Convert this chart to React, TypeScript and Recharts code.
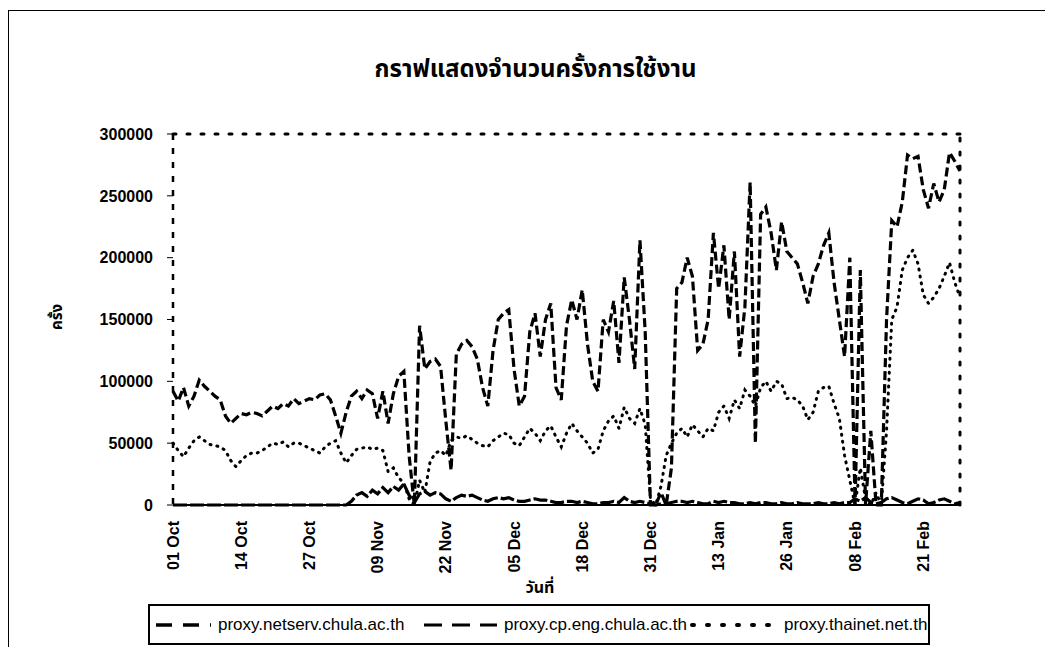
import { LineChart, Line, XAxis, YAxis, ReferenceLine } from "recharts"

// x tick positions (day index counted from 01 Oct) and their labels
const tickDays = [0, 13, 26, 39, 52, 65, 78, 91, 104, 117, 130, 143]
const tickLabels = [
  "01 Oct", "14 Oct", "27 Oct", "09 Nov", "22 Nov", "05 Dec",
  "18 Dec", "31 Dec", "13 Jan", "26 Jan", "08 Feb", "21 Feb",
]
const yTicks = [0, 50000, 100000, 150000, 200000, 250000, 300000]

// one value per day, 01 Oct .. 28 Feb
const netserv = [
  92000, 84000, 95000, 80000, 88000, 101000, 96000, 92000, 88000, 85000,
  72000, 66000, 70000, 74000, 73000, 75000, 74000, 72000, 76000, 80000,
  78000, 82000, 80000, 86000, 82000, 84000, 86000, 85000, 89000, 90000,
  85000, 72000, 58000, 75000, 88000, 92000, 86000, 93000, 90000, 70000,
  92000, 66000, 90000, 104000, 108000, 40000, 0, 145000, 110000, 116000,
  118000, 112000, 68000, 28000, 122000, 130000, 133000, 128000, 118000, 95000,
  80000, 125000, 150000, 155000, 158000, 110000, 80000, 88000, 140000, 155000,
  120000, 150000, 163000, 95000, 85000, 145000, 166000, 150000, 174000, 130000,
  100000, 92000, 150000, 140000, 165000, 115000, 184000, 150000, 110000, 214000,
  140000, 0, 0, 10000, 0, 30000, 175000, 180000, 200000, 185000,
  125000, 130000, 150000, 220000, 175000, 210000, 150000, 205000, 120000, 160000,
  261000, 50000, 235000, 241000, 220000, 190000, 229000, 205000, 200000, 195000,
  180000, 163000, 185000, 195000, 210000, 220000, 180000, 150000, 120000, 200000,
  0, 190000, 0, 60000, 0, 0, 150000, 230000, 225000, 245000,
  283000, 280000, 282000, 255000, 240000, 260000, 245000, 255000, 285000, 278000,
  270000,
]

const cpEng = [
  0, 0, 0, 0, 0, 0, 0, 0, 0, 0,
  0, 0, 0, 0, 0, 0, 0, 0, 0, 0,
  0, 0, 0, 0, 0, 0, 0, 0, 0, 0,
  0, 0, 0, 0, 3000, 8000, 10000, 7000, 12000, 9000,
  14000, 10000, 15000, 12000, 17000, 8000, 2000, 9000, 11000, 8000,
  10000, 9000, 5000, 3000, 6000, 8000, 7000, 8000, 6000, 4000,
  3000, 5000, 6000, 5000, 6000, 4000, 3000, 3000, 4000, 5000,
  4000, 4000, 3000, 2000, 2000, 3000, 3000, 2000, 3000, 2000,
  1000, 1000, 2000, 2000, 3000, 2000, 6000, 3000, 2000, 3000,
  2000, 1000, 0, 1000, 1000, 2000, 3000, 3000, 2000, 3000,
  2000, 1000, 1000, 3000, 2000, 3000, 2000, 2000, 1000, 1000,
  2000, 1000, 2000, 2000, 1000, 1000, 2000, 1000, 1000, 2000,
  1000, 1000, 1000, 2000, 1000, 1000, 2000, 1000, 2000, 2000,
  5000, 3000, 6000, 2000, 1000, 2000, 5000, 6000, 4000, 2000,
  1000, 3000, 5000, 4000, 1000, 2000, 4000, 5000, 3000, 1000,
  2000,
]

const thainet = [
  50000, 44000, 39000, 46000, 52000, 55000, 52000, 49000, 48000, 47000,
  44000, 36000, 31000, 36000, 40000, 42000, 42000, 44000, 47000, 50000,
  49000, 51000, 47000, 50000, 50000, 48000, 46000, 44000, 42000, 47000,
  50000, 52000, 42000, 34000, 40000, 45000, 46000, 47000, 45000, 46000,
  44000, 27000, 30000, 22000, 18000, 5000, 0, 20000, 10000, 35000,
  42000, 44000, 40000, 52000, 55000, 54000, 56000, 53000, 50000, 48000,
  47000, 52000, 55000, 58000, 57000, 50000, 48000, 55000, 62000, 58000,
  52000, 60000, 64000, 55000, 47000, 58000, 66000, 60000, 55000, 50000,
  42000, 45000, 60000, 68000, 72000, 62000, 79000, 70000, 66000, 78000,
  65000, 5000, 0, 15000, 40000, 50000, 58000, 62000, 55000, 65000,
  60000, 55000, 62000, 60000, 75000, 80000, 70000, 85000, 78000, 93000,
  88000, 80000, 95000, 100000, 92000, 100000, 98000, 86000, 87000, 85000,
  80000, 69000, 75000, 92000, 95000, 96000, 82000, 70000, 40000, 20000,
  0, 30000, 5000, 0, 10000, 0, 60000, 150000, 160000, 190000,
  200000, 206000, 195000, 170000, 163000, 168000, 175000, 185000, 196000, 180000,
  168000,
]

const seriesNames = ["proxy.netserv.chula.ac.th", "proxy.cp.eng.chula.ac.th", "proxy.thainet.net.th"]

const data = netserv.map((v, i) => ({
  day: i,
  netserv: v,
  cpEng: cpEng[i],
  thainet: thainet[i],
}))

const W = 1040
const H = 640
const tickFont = "'Liberation Sans Narrow', 'Liberation Sans', Arial, sans-serif"
const thaiFont = "'Noto Sans Thai', 'Noto Sans Thai Looped', 'Loma', 'Garuda', 'Tlwg Typo', 'Noto Sans', sans-serif"

function DateTick(props: any) {
  const { x, y, payload } = props
  const idx = tickDays.indexOf(payload.value)
  const ty = y + 8
  return (
    <text
      x={x}
      y={ty}
      transform={`rotate(-90 ${x} ${ty})`}
      textAnchor="end"
      dominantBaseline="central"
      fontFamily={tickFont}
      fontWeight="bold"
      fontSize={16}
      fill="#000"
    >
      {tickLabels[idx]}
    </text>
  )
}

function LegendItem(props: { left: number; sampleW: number; dash: string; width: number; round?: boolean; label: string }) {
  const { left, sampleW, dash, width, round, label } = props
  return (
    <div style={{ position: "absolute", left, top: 0, height: 37, display: "flex", alignItems: "center" }}>
      <svg width={sampleW} height={10} style={{ marginRight: 6 }}>
        <line
          x1={2}
          y1={5}
          x2={sampleW - 1}
          y2={5}
          stroke="#000"
          strokeWidth={width}
          strokeDasharray={dash}
          strokeLinecap={round ? "round" : "butt"}
        />
      </svg>
      <span>{label}</span>
    </div>
  )
}

export default function App() {
  return (
    <div style={{ position: "relative", width: W, height: H, background: "#fff" }}>
      {/* outer frame */}
      <div style={{ position: "absolute", left: 0, top: 2, width: W - 4, height: H - 4, borderTop: "1.5px solid #000", borderLeft: "1.5px solid #000" }} />

      <div
        style={{
          position: "absolute",
          left: 0,
          width: 1055,
          top: 44,
          textAlign: "center",
          fontFamily: thaiFont,
          fontWeight: "bold",
          fontSize: 24,
        }}
      >
        กราฟแสดงจำนวนครั้งการใช้งาน
      </div>

      <LineChart
        width={W}
        height={H}
        data={data}
        margin={{ top: 126, right: 88, bottom: 63, left: 85 }}
      >
        <XAxis
          dataKey="day"
          type="number"
          domain={[0, 150]}
          ticks={tickDays}
          interval={0}
          height={80}
          tick={<DateTick />}
          tickLine={false}
          axisLine={{ stroke: "#000", strokeWidth: 2 }}
        />
        <YAxis
          type="number"
          domain={[0, 300000]}
          ticks={yTicks}
          interval={0}
          width={80}
          tickSize={6}
          tickMargin={14}
          tick={{ fontFamily: tickFont, fontWeight: "bold", fontSize: 16, fill: "#000" }}
          tickLine={{ stroke: "#000", strokeWidth: 1 }}
          axisLine={{ stroke: "#000", strokeWidth: 2.5, strokeDasharray: "6 8" }}
        />
        <ReferenceLine y={300000} stroke="#000" strokeWidth={3} strokeDasharray="3 11" strokeLinecap="round" />
        <ReferenceLine x={150} stroke="#000" strokeWidth={3} strokeDasharray="3 11" strokeLinecap="round" />
        <Line
          dataKey="thainet"
          name={seriesNames[2]}
          stroke="#000"
          strokeWidth={3}
          strokeDasharray="1 6"
          strokeLinecap="round"
          dot={false}
          activeDot={false}
          isAnimationActive={false}
        />
        <Line
          dataKey="netserv"
          name={seriesNames[0]}
          stroke="#000"
          strokeWidth={3.2}
          strokeDasharray="9 4"
          dot={false}
          activeDot={false}
          isAnimationActive={false}
        />
        <Line
          dataKey="cpEng"
          name={seriesNames[1]}
          stroke="#000"
          strokeWidth={3.2}
          strokeDasharray="14 3"
          dot={false}
          activeDot={false}
          isAnimationActive={false}
        />
      </LineChart>

      {/* y axis title */}
      <div
        style={{
          position: "absolute",
          left: 50 - 30,
          top: 309 - 12,
          width: 60,
          height: 24,
          lineHeight: "24px",
          textAlign: "center",
          transform: "rotate(-90deg)",
          fontFamily: thaiFont,
          fontWeight: "bold",
          fontSize: 15,
        }}
      >
        ครั้ง
      </div>

      {/* x axis title */}
      <div
        style={{
          position: "absolute",
          left: 500,
          width: 64,
          top: 568,
          textAlign: "center",
          fontFamily: thaiFont,
          fontWeight: "bold",
          fontSize: 16,
        }}
      >
        วันที่
      </div>

      {/* legend */}
      <div
        style={{
          position: "absolute",
          left: 140,
          top: 596,
          width: 782,
          height: 41,
          boxSizing: "border-box",
          border: "2px solid #000",
          fontFamily: "'Liberation Sans', Arial, sans-serif",
          fontSize: 17,
          whiteSpace: "nowrap",
        }}
      >
        <LegendItem left={4} sampleW={58} dash="16 11" width={3.5} label={seriesNames[0]} />
        <LegendItem left={272} sampleW={76} dash="18 10" width={3} label={seriesNames[1]} />
        <LegendItem left={540} sampleW={88} dash="2 13" width={4} round label={seriesNames[2]} />
      </div>
    </div>
  )
}
